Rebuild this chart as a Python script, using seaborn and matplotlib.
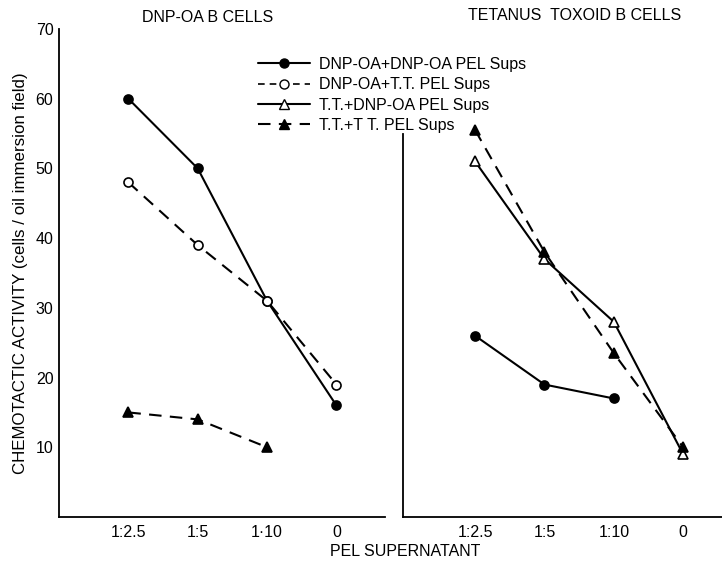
import matplotlib
matplotlib.use("Agg")
import matplotlib.pyplot as plt
import seaborn as sns
import numpy as np
import pandas as pd
from matplotlib.lines import Line2D

sns.set_theme(style="white")
plt.rcParams['font.family'] = ['Liberation Sans', 'DejaVu Sans']
plt.rcParams['text.color'] = 'black'
plt.rcParams['axes.labelcolor'] = 'black'
plt.rcParams['xtick.color'] = 'black'
plt.rcParams['ytick.color'] = 'black'

# ---- data ----
categories = ["1:2.5", "1:5", "1:10", "0"]
left_ticklabels = ["1:2.5", "1:5", "1·10", "0"]
right_ticklabels = ["1:2.5", "1:5", "1:10", "0"]

# DNP-OA B cells panel
dnp_dnp = [60, 50, 31, 16]          # DNP-OA + DNP-OA PEL Sups
dnp_tt = [48, 39, 31, 19]           # DNP-OA + T.T. PEL Sups
dnp_panel_tt_tt = [15, 14, 10]      # T.T. + T.T. PEL Sups (first three dilutions)

# Tetanus toxoid B cells panel
tt_dnp_dnp = [26, 19, 17]           # DNP-OA + DNP-OA PEL Sups (first three)
tt_dnp = [51, 37, 28, 9]            # T.T. + DNP-OA PEL Sups
tt_tt = [55.5, 38, 23.5, 10]        # T.T. + T.T. PEL Sups

legend_labels = ["DNP-OA+DNP-OA PEL Sups", "DNP-OA+T.T. PEL Sups",
                 "T.T.+DNP-OA PEL Sups", "T.T.+T T. PEL Sups"]

W, H = 722, 568
fig = plt.figure(figsize=(W / 100, H / 100), dpi=100)
ax1 = fig.add_axes([59 / W, 51 / H, 326 / W, 488 / H])
ax2 = fig.add_axes([403 / W, 51 / H, 319 / W, 488 / H])

xpos = np.arange(len(categories))

styles = {
    "fc": dict(marker="o", linestyle="-", markerfacecolor="black"),
    "oc": dict(marker="o", linestyle="--", markerfacecolor="white"),
    "ot": dict(marker="^", linestyle="-", markerfacecolor="white"),
    "ft": dict(marker="^", linestyle="--", markerfacecolor="black"),
}

def draw_series(ax, vals, key):
    n = len(vals)
    st = styles[key]
    ls = (0, (6, 4)) if st["linestyle"] == "--" else "-"
    df = pd.DataFrame({"x": xpos[:n], "y": vals})
    sns.lineplot(data=df, x="x", y="y", ax=ax, color="black", linewidth=1.5,
                 marker=st["marker"], markersize=6.5,
                 markerfacecolor=st["markerfacecolor"],
                 markeredgecolor="black", markeredgewidth=1.2)
    ax.lines[-1].set_linestyle(ls)

draw_series(ax1, dnp_dnp, "fc")
draw_series(ax1, dnp_tt, "oc")
draw_series(ax1, dnp_panel_tt_tt, "ft")

draw_series(ax2, tt_dnp_dnp, "fc")
draw_series(ax2, tt_dnp, "ot")
draw_series(ax2, tt_tt, "ft")

for ax in (ax1, ax2):
    ax.set_ylim(0, 70)
    ax.set_xticks(xpos)
    ax.set_xlabel("")
    ax.set_ylabel("")
    ax.spines["top"].set_visible(False)
    ax.spines["right"].set_visible(False)
    for s in ("left", "bottom"):
        ax.spines[s].set_color("black")
        ax.spines[s].set_linewidth(1.3)
    ax.tick_params(axis="both", direction="in", length=10, width=1.3,
                   color="black", labelsize=11.5, labelcolor="black")
    ax.tick_params(axis="x", pad=6)
    ax.set_facecolor("none")
    ax.grid(False)

ax1.set_xlim(-1.0, 3.7)
ax2.set_xlim(-1.04, 3.56)
ax1.set_xticklabels(left_ticklabels)
ax2.set_xticklabels(right_ticklabels)

ax1.set_yticks([10, 20, 30, 40, 50, 60, 70])
ax1.tick_params(axis="y", pad=4)
ax2.set_yticks([10, 20, 30, 40, 50])
ax2.set_yticklabels([])
ax2.spines["left"].set_bounds(0, 55)

fig.text(208 / W, 1 - 17 / H, "DNP-OA B CELLS", ha="center", va="center",
         fontsize=11.5, color="black")
fig.text(575 / W, 1 - 15 / H, "TETANUS  TOXOID B CELLS", ha="center", va="center",
         fontsize=11.5, color="black")
fig.text(405 / W, 1 - 551 / H, "PEL SUPERNATANT", ha="center", va="center",
         fontsize=11.5, color="black")
fig.text(21 / W, 1 - 273 / H, "CHEMOTACTIC ACTIVITY (cells / oil immersion field)",
         ha="center", va="center", rotation=90, fontsize=12.2, color="black")

handles = [
    Line2D([], [], color="black", linestyle="-", marker="o", markersize=6.5,
           markerfacecolor="black", markeredgecolor="black", linewidth=1.5),
    Line2D([], [], color="black", linestyle=(0, (4, 3)), marker="o", markersize=6.5,
           markerfacecolor="white", markeredgecolor="black", linewidth=1.2),
    Line2D([], [], color="black", linestyle="-", marker="^", markersize=6.5,
           markerfacecolor="white", markeredgecolor="black", linewidth=1.5),
    Line2D([], [], color="black", linestyle=(0, (6, 4)), marker="^", markersize=6.5,
           markerfacecolor="black", markeredgecolor="black", linewidth=1.5),
]
leg = fig.legend(handles, legend_labels, loc="upper left",
                 bbox_to_anchor=(258 / W, 1 - 57 / H), frameon=False,
                 fontsize=11.5, handlelength=3.25, handletextpad=0.6,
                 labelspacing=0.33, borderpad=0, borderaxespad=0,
                 labelcolor="black")

fig.savefig("out.png", dpi=100, facecolor="white")
